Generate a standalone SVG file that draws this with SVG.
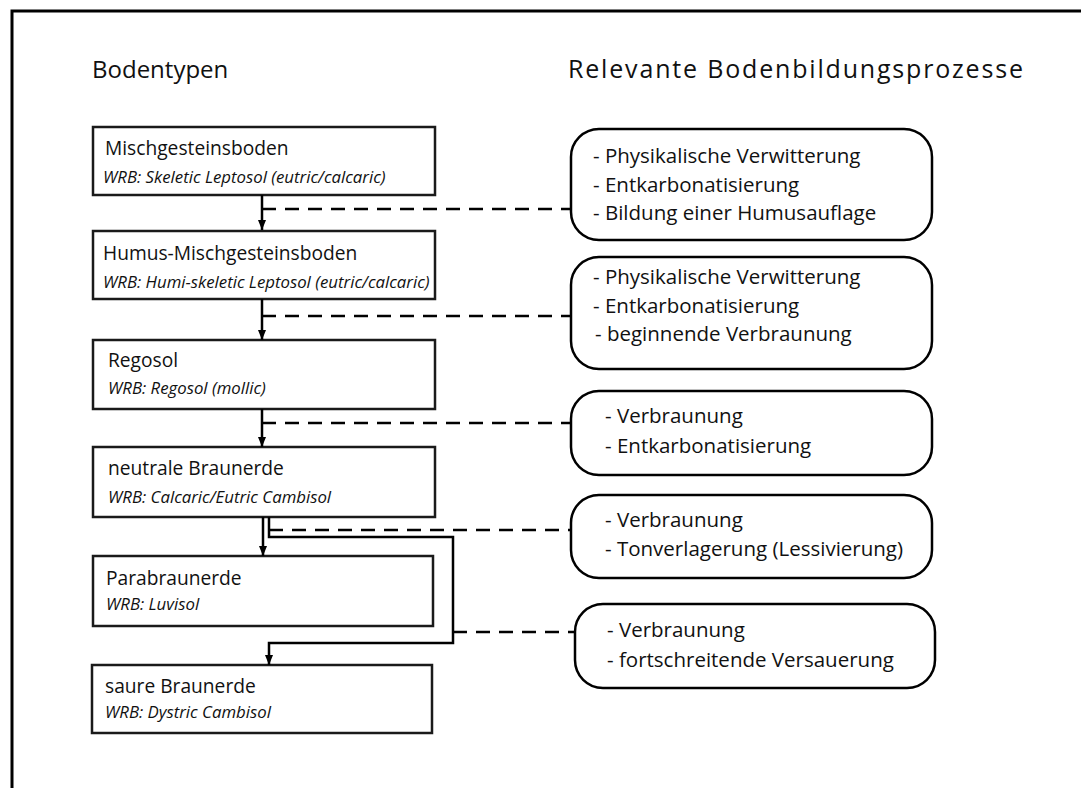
<svg xmlns="http://www.w3.org/2000/svg" width="1081" height="788" viewBox="0 0 1081 788">
  <style>
    .frame { fill: none; stroke: #000; stroke-width: 3; }
    .soil rect { fill: #fff; stroke: #1a1a1a; stroke-width: 2.5; }
    .proc rect { fill: #fff; stroke: #000; stroke-width: 2.5; }
    .head { font-family: "Open Sans", "Liberation Sans", sans-serif; font-size: 24px; fill: #111; }
    .name { font-family: "Open Sans", "Liberation Sans", sans-serif; font-size: 19.2px; fill: #111; }
    .wrb { font-family: "Open Sans", "Liberation Sans", sans-serif; font-size: 16.8px; font-style: italic; fill: #111; }
    .item { font-family: "Open Sans", "Liberation Sans", sans-serif; font-size: 20.5px; fill: #111; }
    .flow { fill: none; stroke: #000; stroke-width: 2.5; }
    .dash { fill: none; stroke: #000; stroke-width: 2.5; stroke-dasharray: 14 9; }
  </style>
  <defs>
    <marker id="arrow" viewBox="0 0 10 8" refX="10" refY="4" markerWidth="10" markerHeight="8" markerUnits="userSpaceOnUse" orient="auto">
      <path d="M0,0 L10,4 L0,8 Z" fill="#000"/>
    </marker>
  </defs>
  <rect width="1081" height="788" fill="#fff"/>

  <!-- frame: top and left edge only -->
  <path class="frame" d="M12,788 V11 H1081"/>

  <!-- column headings -->
  <text class="head" x="92" y="78">Bodentypen</text>
  <text class="head" x="568" y="78" style="font-size:25px" textLength="455" lengthAdjust="spacing">Relevante Bodenbildungsprozesse</text>

  <!-- soil types -->
  <g id="mischgesteinsboden" class="soil">
    <rect x="93" y="127" width="342" height="68"/>
    <text class="name" x="105" y="155">Mischgesteinsboden</text>
    <text class="wrb" x="103" y="183">WRB: Skeletic Leptosol (eutric/calcaric)</text>
  </g>
  <g id="humus-mischgesteinsboden" class="soil">
    <rect x="93" y="231" width="342" height="68"/>
    <text class="name" x="103" y="260">Humus-Mischgesteinsboden</text>
    <text class="wrb" x="103" y="288">WRB: Humi-skeletic Leptosol (eutric/calcaric)</text>
  </g>
  <g id="regosol" class="soil">
    <rect x="93" y="340" width="342" height="69"/>
    <text class="name" x="108" y="367">Regosol</text>
    <text class="wrb" x="108" y="394">WRB: Regosol (mollic)</text>
  </g>
  <g id="neutrale-braunerde" class="soil">
    <rect x="93" y="447" width="342" height="70"/>
    <text class="name" x="108" y="475">neutrale Braunerde</text>
    <text class="wrb" x="108" y="503">WRB: Calcaric/Eutric Cambisol</text>
  </g>
  <g id="parabraunerde" class="soil">
    <rect x="93" y="556" width="340" height="70"/>
    <text class="name" x="106" y="585">Parabraunerde</text>
    <text class="wrb" x="106" y="610">WRB: Luvisol</text>
  </g>
  <g id="saure-braunerde" class="soil">
    <rect x="92" y="665" width="340" height="68"/>
    <text class="name" x="105" y="693">saure Braunerde</text>
    <text class="wrb" x="105" y="718">WRB: Dystric Cambisol</text>
  </g>

  <!-- soil-forming processes -->
  <g id="prozesse-1" class="proc">
    <rect x="571" y="129" width="361" height="111" rx="28" ry="28"/>
    <text class="item" x="593" y="163">- Physikalische Verwitterung</text>
    <text class="item" x="593" y="192">- Entkarbonatisierung</text>
    <text class="item" x="593" y="220">- Bildung einer Humusauflage</text>
  </g>
  <g id="prozesse-2" class="proc">
    <rect x="571" y="257" width="361" height="112" rx="28" ry="28"/>
    <text class="item" x="593" y="284">- Physikalische Verwitterung</text>
    <text class="item" x="593" y="313">- Entkarbonatisierung</text>
    <text class="item" x="595" y="341">- beginnende Verbraunung</text>
  </g>
  <g id="prozesse-3" class="proc">
    <rect x="571" y="391" width="361" height="84" rx="28" ry="28"/>
    <text class="item" x="605" y="423">- Verbraunung</text>
    <text class="item" x="605" y="453">- Entkarbonatisierung</text>
  </g>
  <g id="prozesse-4" class="proc">
    <rect x="571" y="495" width="361" height="83" rx="28" ry="28"/>
    <text class="item" x="605" y="527">- Verbraunung</text>
    <text class="item" x="605" y="556">- Tonverlagerung (Lessivierung)</text>
  </g>
  <g id="prozesse-5" class="proc">
    <rect x="575" y="604" width="360" height="84" rx="28" ry="28"/>
    <text class="item" x="607" y="637">- Verbraunung</text>
    <text class="item" x="607" y="667">- fortschreitende Versauerung</text>
  </g>

  <!-- connectors -->
  <g id="connectors">
    <path class="flow" d="M262,195 V230" marker-end="url(#arrow)"/>
    <path class="flow" d="M262,299 V340" marker-end="url(#arrow)"/>
    <path class="flow" d="M262,409 V447" marker-end="url(#arrow)"/>
    <path class="flow" d="M263,517 V556" marker-end="url(#arrow)"/>
    <path class="flow" d="M269,517 V537 H453 V643 H269 V665" marker-end="url(#arrow)"/>

    <path class="dash" d="M262,209 H571"/>
    <path class="dash" d="M262,316 H571"/>
    <path class="dash" d="M262,423 H571"/>
    <path class="dash" d="M269,530 H571"/>
    <path class="dash" d="M453,632 H575"/>
  </g>
</svg>
